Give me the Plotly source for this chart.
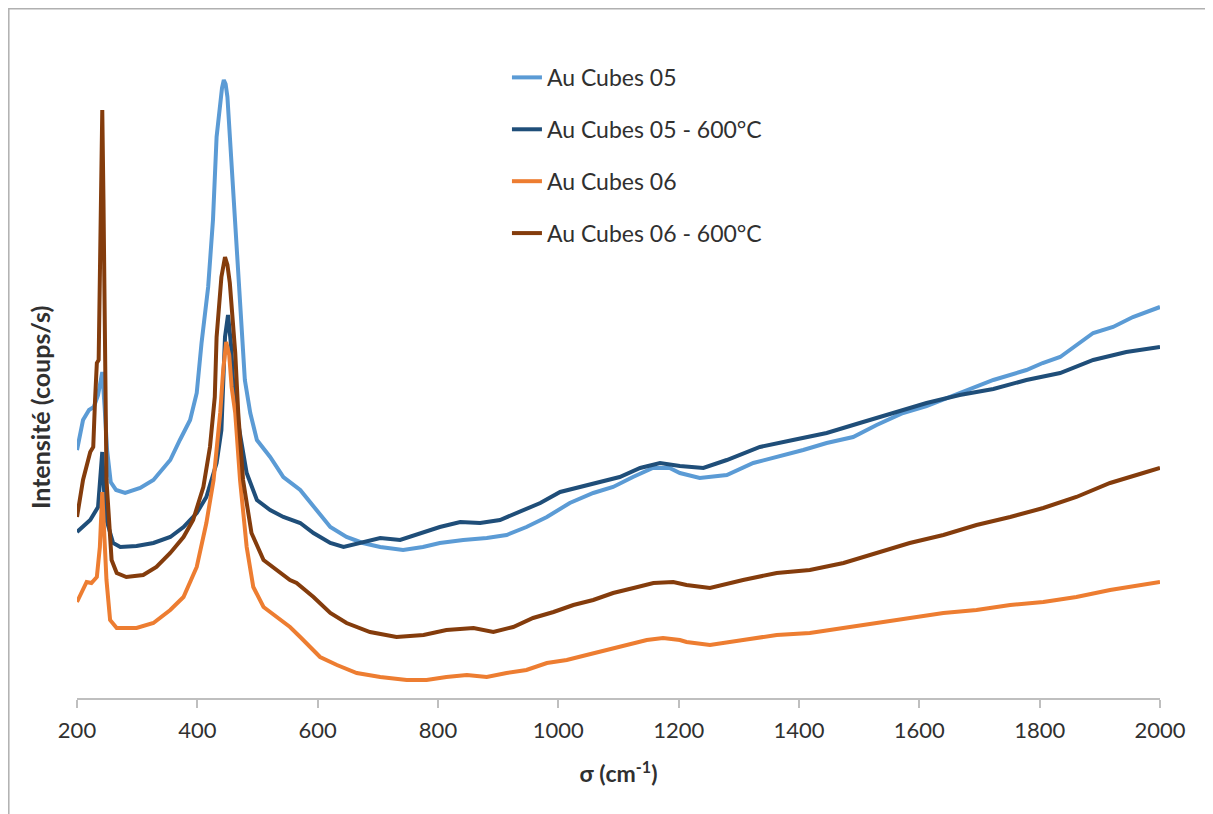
import plotly.graph_objects as go

# Raman shift (cm-1) and intensity (arbitrary counts/s units)
sig_05 = [200, 210, 220, 228, 235, 239, 242, 246, 250, 256, 265, 280, 305, 327, 355, 371, 388, 399, 407, 418,
          426, 432, 438, 441, 444, 447, 450, 454, 463, 471, 479, 488, 499, 521, 543, 571, 593, 621, 648, 675, 704, 742,
          775, 803, 842, 881, 914, 947, 981, 1019, 1058, 1091, 1124, 1157, 1185, 1202, 1235, 1280, 1324, 1363,
          1407, 1446, 1490, 1529, 1573, 1612, 1651, 1695, 1723, 1778, 1805, 1834, 1867, 1889, 1922, 1955, 2000]
int_05 = [248, 278, 288, 291, 303, 318, 326, 290, 248, 216, 208, 205, 210, 218, 238, 258, 278, 305, 355, 411,
          478, 561, 598, 610, 618, 614, 601, 561, 478, 395, 318, 285, 258, 241, 221, 208, 191, 171, 161, 155, 151, 148,
          151, 155, 158, 160, 163, 171, 181, 195, 205, 211, 221, 230, 230, 225, 220, 223, 235, 241,
          248, 255, 261, 273, 285, 292, 301, 311, 318, 328, 335, 341, 355, 365, 371, 381, 391]

sig_05_600 = [200, 222, 235, 239, 242, 245, 249, 260, 272, 299, 327, 355, 377, 399, 415, 432, 440, 446, 451, 456,
              460, 465, 474, 482, 499, 521, 543, 571, 593, 621, 643, 676, 704, 737, 770, 803, 837, 870, 903, 936,
              970, 1003, 1036, 1069, 1102, 1136, 1169, 1202, 1241, 1280, 1335, 1390, 1446, 1501, 1557, 1612, 1667,
              1723, 1778, 1834, 1889, 1944, 2000]
int_05_600 = [166, 178, 191, 218, 246, 208, 178, 155, 151, 152, 155, 161, 171, 185, 201, 235, 268, 361, 383, 353,
              311, 285, 251, 225, 198, 188, 181, 175, 165, 155, 151, 156, 160, 158, 165, 171, 176, 175, 178, 186,
              195, 206, 211, 216, 221, 230, 235, 232, 230, 238, 251, 258, 265, 275, 285, 295, 303,
              309, 318, 325, 338, 346, 351]

sig_06 = [200, 216, 224, 233, 238, 242, 245, 249, 255, 266, 299, 327, 355, 377, 399, 415, 427, 438, 443, 448,
          453, 457, 463, 471, 482, 493, 510, 532, 554, 571, 604, 632, 665, 704, 748, 781, 814, 848, 881, 914,
          947, 981, 1014, 1047, 1080, 1113, 1147, 1174, 1202, 1213, 1252, 1307, 1363, 1418, 1474, 1529, 1584,
          1640, 1695, 1751, 1806, 1861, 1917, 1972, 2000]
int_06 = [96, 116, 115, 121, 151, 206, 168, 118, 78, 70, 70, 75, 88, 101, 131, 175, 218, 285, 328, 356,
          343, 311, 285, 218, 151, 111, 91, 81, 71, 61, 41, 33, 25, 21, 18, 18, 21, 23, 21, 25,
          28, 35, 38, 43, 48, 53, 58, 60, 58, 56, 53, 58, 63, 65, 70, 75, 80,
          85, 88, 93, 96, 101, 108, 113, 116]

sig_06_600 = [200, 210, 222, 227, 230, 233, 236, 240, 242, 244, 246.5, 249, 257.5, 266, 282, 310, 332, 355, 377, 393,
              410, 421, 429, 432, 440, 446, 450, 454, 463, 468, 476, 490, 510, 532, 554, 565, 593, 621, 648, 687,
              731, 776, 814, 859, 892, 925, 958, 992, 1025, 1058, 1091, 1125, 1158, 1191, 1213, 1252, 1307, 1363,
              1418, 1474, 1529, 1584, 1640, 1695, 1751, 1806, 1861, 1917, 1972, 2000]
int_06_600 = [181, 218, 246, 251, 298, 335, 338, 498, 588, 498, 311, 218, 138, 125, 121, 123, 131, 145, 161, 178,
              211, 251, 301, 361, 421, 441, 433, 415, 345, 285, 218, 165, 138, 128, 118, 115, 101, 85, 75, 66,
              61, 63, 68, 70, 66, 71, 80, 86, 93, 98, 105, 110, 115, 116, 113, 110, 118, 125,
              128, 135, 145, 155, 163, 173, 181, 190, 201, 215, 225, 230]

names = ["Au Cubes 05", "Au Cubes 05 - 600°C", "Au Cubes 06", "Au Cubes 06 - 600°C"]
colors = ["#5B9BD5", "#1F4E79", "#ED7D31", "#843C0C"]
xs = [sig_05, sig_05_600, sig_06, sig_06_600]
ys = [int_05, int_05_600, int_06, int_06_600]

x_ticks = [200, 400, 600, 800, 1000, 1200, 1400, 1600, 1800, 2000]

FONT = "Lato, 'Open Sans', sans-serif"
TXT = "#303030"

fig = go.Figure()
for n, c, x, y in zip(names, colors, xs, ys):
    fig.add_trace(go.Scatter(x=x, y=y, mode="lines", name=n, legendgroup=n,
                             line=dict(color=c, width=4)))

# page body has an 8px offset; plot area target: x 77..1160, y 20..698 on screen
PW = 1083.0
PH = 678.0
L, T = 69, 12
fig.update_layout(
    width=1213, height=814,
    margin=dict(l=L, r=61, t=T, b=124),
    paper_bgcolor="white", plot_bgcolor="white",
    font=dict(family=FONT, size=22, color=TXT),
    showlegend=True,
    legend=dict(x=0.397, y=0.947, xanchor="left", yanchor="top",
                bgcolor="rgba(0,0,0,0)", tracegroupgap=19,
                font=dict(family=FONT, size=23, color=TXT)),
    xaxis=dict(range=[200, 2000], tickvals=x_ticks, ticks="outside", ticklen=8,
               tickcolor="#BFBFBF", tickwidth=1.5, showline=True, linecolor="#BFBFBF",
               linewidth=1.5, showgrid=False, zeroline=False, ticklabelstandoff=4,
               tickfont=dict(family=FONT, size=22, color=TXT),
               title=dict(text="<b>σ (cm<sup>-1</sup>)</b>", standoff=24,
                          font=dict(family=FONT, size=23, color=TXT))),
    yaxis=dict(range=[0, 678], showticklabels=False, ticks="", showline=False,
               showgrid=False, zeroline=False),
    annotations=[dict(text="<b>Intensité (coups/s)</b>", textangle=-90,
                      xref="paper", yref="paper", x=(40 - 77) / PW, y=(698 - 408) / PH,
                      xanchor="center", yanchor="middle", showarrow=False,
                      font=dict(family=FONT, size=25, color=TXT))],
    shapes=[dict(type="rect", xref="paper", yref="paper",
                 x0=(0.8 - L) / PW, x1=1.2, y0=-0.3, y1=(PH + T - 0.8) / PH,
                 line=dict(color="#B0B0B0", width=1.5), fillcolor="rgba(0,0,0,0)", layer="above")],
)

fig.write_html("out.html")
